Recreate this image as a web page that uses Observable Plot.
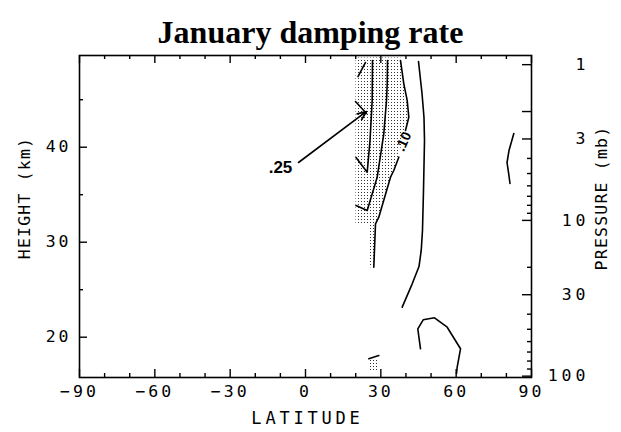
<!DOCTYPE html>
<html>
<head>
<meta charset="utf-8">
<script src="https://cdn.jsdelivr.net/npm/d3@7"></script>
<script src="https://cdn.jsdelivr.net/npm/@observablehq/plot@0.6"></script>
<style>
  html, body { margin: 0; padding: 0; background: #fff; }
  #chart { width: 621px; height: 432px; overflow: hidden; }
  #title {
    height: 50px; box-sizing: border-box; padding-top: 16px;
    font: bold 32px "Liberation Serif", "Times New Roman", serif;
    line-height: 1; text-align: center; color: #000;
  }
  g[aria-label="x-axis tick label"] text,
  g[aria-label="y-axis tick label"] text { letter-spacing: 3px; }
  g[aria-description="pressure tick label"] text { letter-spacing: 4px; }
  g[aria-description="latitude title"] text { letter-spacing: 3.8px; }
  g[aria-description="height title"] text,
  g[aria-description="pressure title"] text { letter-spacing: 1.2px; }
</style>
</head>
<body>
<div id="chart">
  <div id="title">January damping rate</div>
</div>
<script>
// Axis ticks
const latTicks = [-90, -60, -30, 0, 30, 60, 90];
const latMinor = [-80, -70, -50, -40, -20, -10, 10, 20, 40, 50, 70, 80];
const heightTicks = [20, 30, 40];
const heightMinor = [25, 35, 45];
const pressureLabels = [1, 3, 10, 30, 100];
const pressureMajor = [1, 2, 3, 10, 30, 100];
const pressureMinor = [4, 5, 6, 7, 8, 9, 20, 40, 50, 60, 70, 80, 90];

// Pressure (mb) to log-pressure height (km)
const z100 = 15.9, scaleHeightKm = 7.12;
const zOf = p => z100 + scaleHeightKm * Math.log(100 / p);

// Contours of the damping rate: [latitude, height km]
const contourTopStub = [[23.89, 48.92], [20.91, 47.44]];
const contourHook = [[19.91, 44.81], [24.29, 43.55]];
const contourInner = [[26.68, 49.13], [26.56, 44.92], [25.69, 40.71], [24.57, 37.37], [20.11, 38.92]];
const contourMiddle = [[32.66, 49.13], [32.54, 46.67], [32.26, 44.92], [31.18, 41.41], [28.55, 36.84], [24.57, 33.34], [20.11, 33.86]];
const contour10Upper = [[37.83, 49.13], [39.15, 46.67], [40.50, 44.92], [41.14, 43.16], [39.82, 41.76]];
const contour10Lower = [[37.16, 38.95], [35.16, 37.55], [33.85, 36.84], [29.19, 32.63], [27.88, 31.94], [27.20, 27.37]];
const contourOuter = [[45.00, 49.02], [46.40, 45.65], [47.19, 43.13], [47.39, 40.71], [46.99, 35.44], [46.59, 31.23], [46.08, 29.13], [45.20, 27.44], [42.49, 25.62], [38.51, 23.16]];
const contourPolar = [[82.96, 41.44], [81.04, 39.65], [80.25, 38.39], [80.84, 37.34], [81.44, 36.18]];
const contourLow = [[45.80, 18.78], [44.72, 20.88], [46.87, 21.83], [51.37, 22.04], [56.43, 21.05], [61.73, 18.78], [60.41, 16.84], [60.14, 16.18]];
const contourLowStub = [[25.21, 17.73], [29.19, 18.07]];

// Stippled region (rate above .25): height with west / east latitude bounds
const stippleHeight = [27.30, 31.76, 31.76, 32.63, 36.84, 37.55, 38.95, 41.76, 43.16, 44.92, 46.67, 49.40];
const stippleWest   = [25.09, 25.09, 20.11, 20.11, 20.11, 20.11, 20.11, 20.11, 20.11, 20.11, 20.11, 20.11];
const stippleEast   = [27.25, 27.95, 27.95, 29.19, 33.85, 35.16, 37.16, 39.82, 41.14, 40.50, 39.15, 38.00];
const stippleLowHeight = [16.45, 17.60];
const stippleLowWest   = [25.09, 25.09];
const stippleLowEast   = [29.00, 29.00];

// Contour labels
const label25 = {lat: -9.96, h: 37.81, text: ".25"};
const arrow25 = {lat1: -2.79, h1: 38.39, lat2: 24.29, h2: 43.76};
const label10 = {lat: 39.03, h: 40.6, text: ".10"};

const contours = [
  contourTopStub, contourHook, contourInner, contourMiddle, contour10Upper, contour10Lower,
  contourOuter, contourPolar, contourLow, contourLowStub
].flatMap((c, id) => c.map(([lat, h]) => ({id, lat, h})));

const band = (hs, ws, es) => hs.map((h, i) => ({h, west: ws[i], east: es[i]}));

const width = 621, height = 382;
const marginLeft = 79, marginRight = 90, marginTop = 5, marginBottom = 55;
const frameW = width - marginLeft - marginRight;
const frameH = height - marginTop - marginBottom;
const longTick = 8, shortTick = 4;
const tickFont = "DejaVu Sans Mono";

const svg = Plot.plot({
  width, height, marginLeft, marginRight, marginTop, marginBottom,
  style: {fontFamily: tickFont, fontSize: "16.5px", color: "#000", background: "#fff"},
  x: {domain: [-90, 90]},
  y: {domain: [15.758, 49.653]},
  marks: [
    Plot.areaX(band(stippleHeight, stippleWest, stippleEast), {y: "h", x1: "west", x2: "east", fill: "url(#stipple)"}),
    Plot.areaX(band(stippleLowHeight, stippleLowWest, stippleLowEast), {y: "h", x1: "west", x2: "east", fill: "url(#stipple)"}),
    Plot.line(contours, {x: "lat", y: "h", z: "id", stroke: "#000", strokeWidth: 1.6, strokeLinejoin: "round", strokeLinecap: "round"}),
    Plot.arrow([arrow25], {x1: "lat1", y1: "h1", x2: "lat2", y2: "h2", stroke: "#000", strokeWidth: 1.6, headLength: 9, headAngle: 45}),
    Plot.text([label25], {x: "lat", y: "h", text: "text", fontFamily: "Liberation Sans", fontSize: 17, fontWeight: "bold", fill: "#000"}),
    Plot.text([label10], {x: "lat", y: "h", text: "text", fontFamily: "Liberation Sans", fontSize: 14, fontWeight: "bold", rotate: -66, fill: "#000"}),
    // inward ticks on all four sides
    Plot.tickX(latTicks, {x: d => d, insetTop: frameH - longTick, strokeWidth: 1.4}),
    Plot.tickX(latMinor, {x: d => d, insetTop: frameH - shortTick, strokeWidth: 1.4}),
    Plot.tickX(latTicks, {x: d => d, insetBottom: frameH - longTick, strokeWidth: 1.4}),
    Plot.tickX(latMinor, {x: d => d, insetBottom: frameH - shortTick, strokeWidth: 1.4}),
    Plot.tickY(heightTicks, {y: d => d, insetRight: frameW - longTick, strokeWidth: 1.4}),
    Plot.tickY(heightMinor, {y: d => d, insetRight: frameW - shortTick, strokeWidth: 1.4}),
    Plot.tickY(pressureMajor, {y: zOf, insetLeft: frameW - longTick - 1, strokeWidth: 1.4}),
    Plot.tickY(pressureMinor, {y: zOf, insetLeft: frameW - shortTick, strokeWidth: 1.4}),
    Plot.frame({stroke: "#000", strokeWidth: 1.6}),
    // tick labels
    Plot.axisX(latTicks, {anchor: "bottom", tickSize: 0, tickPadding: 8, label: null, fontSize: 16.5,
      tickFormat: d => (d < 0 ? "\u2212" + Math.abs(d) : String(d))}),
    Plot.axisY(heightTicks, {anchor: "left", tickSize: 0, tickPadding: 8, label: null, fontSize: 16.5}),
    Plot.text(pressureLabels, {y: zOf, text: p => String(p), frameAnchor: "right", textAnchor: "end", dx: 58,
      fontSize: 16.5, ariaDescription: "pressure tick label"}),
    // axis titles
    Plot.text(["LATITUDE"], {text: d => d, frameAnchor: "bottom", textAnchor: "middle", dx: 2, dy: 41, lineAnchor: "middle",
      fontSize: 17, ariaDescription: "latitude title"}),
    Plot.text(["HEIGHT (km)"], {text: d => d, frameAnchor: "left", textAnchor: "middle", lineAnchor: "middle", rotate: -90,
      dx: -55, dy: -18.5, fontSize: 16.5, ariaDescription: "height title"}),
    Plot.text(["PRESSURE (mb)"], {text: d => d, frameAnchor: "right", textAnchor: "middle", lineAnchor: "middle", rotate: -90,
      dx: 70, dy: -18.5, fontSize: 16.5, ariaDescription: "pressure title"})
  ]
});

// dot stipple used to shade the region of strongest damping
const defs = d3.select(svg).insert("defs", ":first-child");
defs.append("pattern")
  .attr("id", "stipple").attr("patternUnits", "userSpaceOnUse")
  .attr("width", 3).attr("height", 3)
  .append("rect").attr("x", 1).attr("y", 1).attr("width", 1).attr("height", 1).attr("fill", "#333");

document.getElementById("chart").appendChild(svg);
</script>
</body>
</html>
